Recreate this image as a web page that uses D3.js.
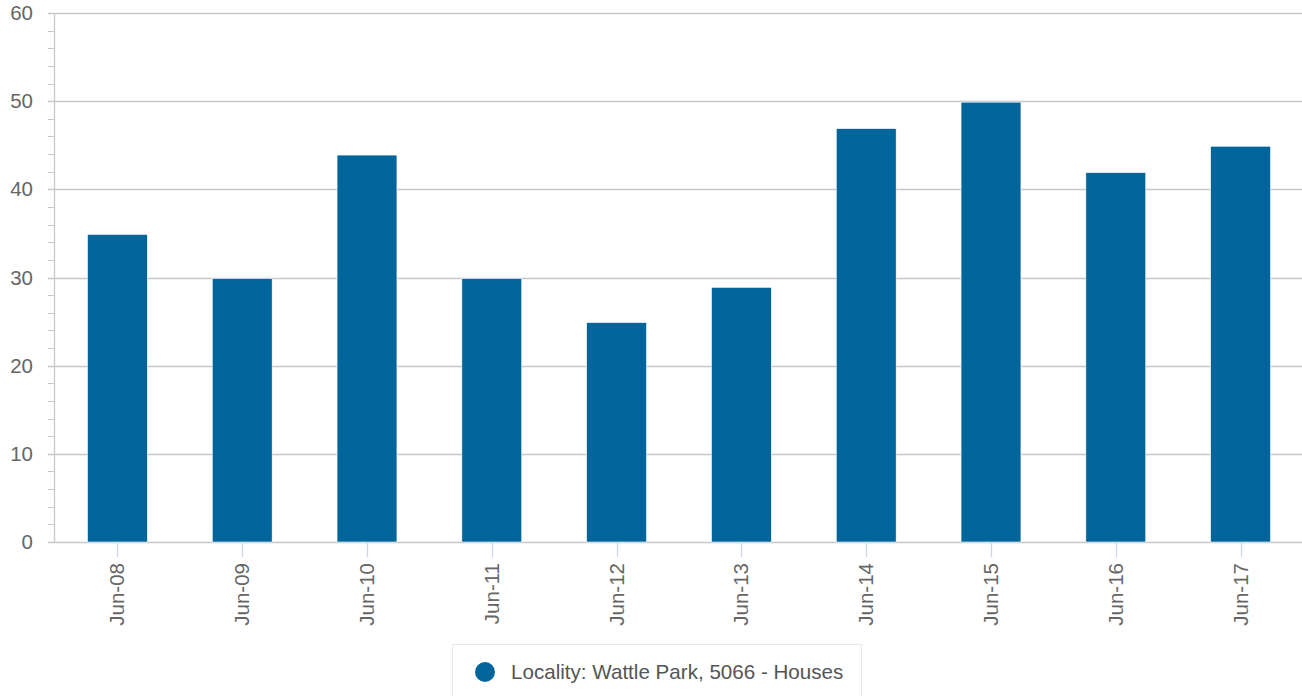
<!DOCTYPE html>
<html>
<head>
<meta charset="utf-8">
<script src="https://cdn.jsdelivr.net/npm/d3@7"></script>
<style>
html,body{margin:0;padding:0;background:#fff;}
svg{display:block;font-family:"Liberation Sans",Arial,sans-serif;}
</style>
</head>
<body>
<svg id="chart" width="1302" height="696"></svg>
<script>
const categories = ["Jun-08","Jun-09","Jun-10","Jun-11","Jun-12","Jun-13","Jun-14","Jun-15","Jun-16","Jun-17"];
const values = [35,30,44,30,25,29,47,50,42,45];
const yTicks = [0,10,20,30,40,50,60];
const seriesName = "Locality: Wattle Park, 5066 - Houses";
const barColor = "#00659a";

const svg = d3.select("#chart");
const plotLeft = 54, plotRight = 1302, plotTop = 13, plotBottom = 542;

const x = d3.scaleBand().domain(categories).range([plotLeft + 1, plotRight + 1]).paddingInner(0.52).paddingOuter(0.26);
const y = d3.scaleLinear().domain([0, 60]).range([plotBottom, plotTop]);

// minor ticks
const minor = d3.range(0, 61, 2).filter(v => v % 10 !== 0);
svg.append("g").selectAll("line").data(minor).join("line")
  .attr("x1", plotLeft - 6).attr("x2", plotLeft)
  .attr("y1", d => Math.round(y(d)) + 0.5).attr("y2", d => Math.round(y(d)) + 0.5)
  .attr("stroke", "#c8c8c8").attr("stroke-width", 1);

// grid lines
svg.append("g").selectAll("line").data(yTicks).join("line")
  .attr("x1", plotLeft - 6).attr("x2", plotRight)
  .attr("y1", d => Math.round(y(d)) + 0.5).attr("y2", d => Math.round(y(d)) + 0.5)
  .attr("stroke", "#c8c8c8").attr("stroke-width", 1.3);

// y axis line
svg.append("line").attr("x1", plotLeft + 0.5).attr("x2", plotLeft + 0.5)
  .attr("y1", plotTop).attr("y2", plotBottom)
  .attr("stroke", "#c8c8c8").attr("stroke-width", 1.3);

// y labels
svg.append("g").selectAll("text").data(yTicks).join("text")
  .attr("x", 33).attr("y", d => y(d) + 7)
  .attr("text-anchor", "end").attr("font-size", 20.5).attr("fill", "#666")
  .text(d => d);

// bars
svg.append("g").selectAll("rect").data(values).join("rect")
  .attr("x", (d, i) => x(categories[i]))
  .attr("width", x.bandwidth())
  .attr("y", d => y(d) + 1)
  .attr("height", d => plotBottom - y(d) - 1)
  .attr("fill", barColor)
  .attr("stroke", "#fff").attr("stroke-width", 0.6);

// x ticks
svg.append("g").selectAll("line").data(categories).join("line")
  .attr("x1", d => Math.round(x(d) + x.bandwidth() / 2) + 0.5)
  .attr("x2", d => Math.round(x(d) + x.bandwidth() / 2) + 0.5)
  .attr("y1", plotBottom + 1).attr("y2", plotBottom + 15)
  .attr("stroke", "#ccd6eb").attr("stroke-width", 1.3);

// x labels
svg.append("g").selectAll("text").data(categories).join("text")
  .attr("transform", d => `translate(${x(d) + x.bandwidth() / 2 + 7},${563}) rotate(-90)`)
  .attr("text-anchor", "end").attr("font-size", 20.5).attr("fill", "#666")
  .text(d => d);

// legend
const lg = svg.append("g");
lg.append("rect").attr("x", 452.5).attr("y", 644.5).attr("width", 409).attr("height", 70)
  .attr("fill", "#fff").attr("stroke", "#e8e8e8").attr("stroke-width", 1);
lg.append("circle").attr("cx", 485).attr("cy", 672).attr("r", 10).attr("fill", barColor);
lg.append("text").attr("x", 511).attr("y", 679).attr("font-size", 20.6).attr("fill", "#555")
  .text(seriesName);
</script>
</body>
</html>
